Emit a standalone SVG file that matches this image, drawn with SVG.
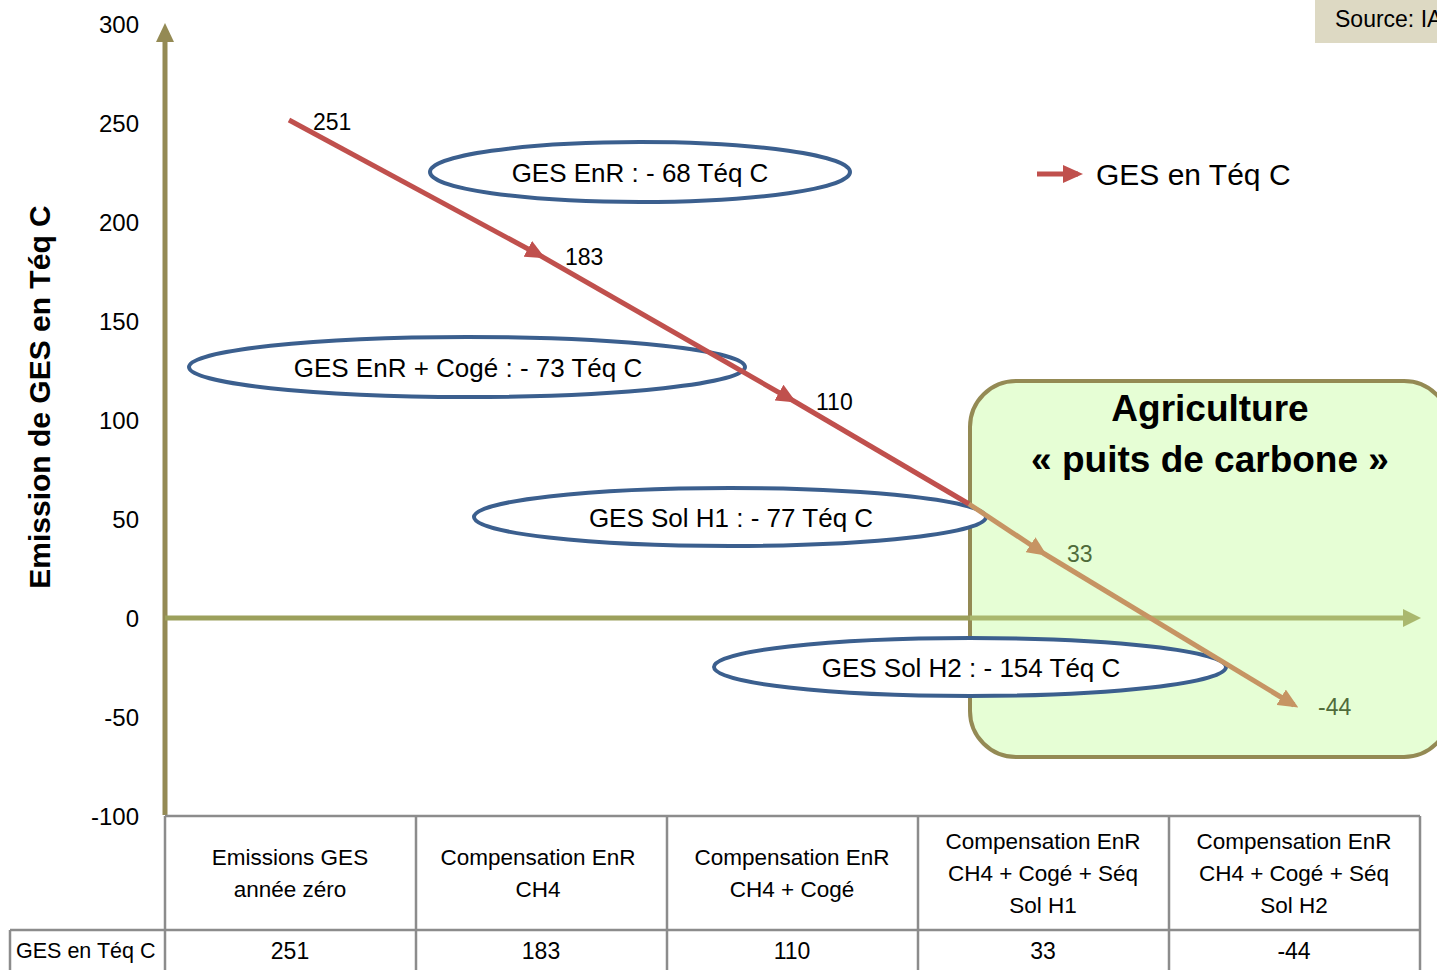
<svg xmlns="http://www.w3.org/2000/svg" width="1437" height="970" viewBox="0 0 1437 970">
  <style>
    text { font-family: "Liberation Sans", Arial, sans-serif; fill: #000; }
    .tick { font-size: 24px; text-anchor: end; }
    .cat { font-size: 22.5px; text-anchor: middle; }
    .val { font-size: 23px; text-anchor: middle; }
    .pt { font-size: 23px; }
    .pt-in { font-size: 23px; fill: #4F6B3A; }
    .oval { fill: #FFFFFF; stroke: #3B5F8E; stroke-width: 4; }
    .oval-label { font-size: 26px; text-anchor: middle; }
    .grid { stroke: #8C8C8C; stroke-width: 2.5; fill: none; }
    .seg-red { stroke: #C0504D; stroke-width: 5; fill: none; }
    .seg-tan { stroke: #C69463; stroke-width: 5; fill: none; }
  </style>
  <defs>
    <marker id="arrow-red" markerUnits="userSpaceOnUse" viewBox="0 0 20 18" markerWidth="20" markerHeight="18" refX="15" refY="9" orient="auto">
      <path d="M0,0 L20,9 L0,18 z" fill="#C0504D"/>
    </marker>
    <marker id="arrow-tan" markerUnits="userSpaceOnUse" viewBox="0 0 20 18" markerWidth="20" markerHeight="18" refX="15" refY="9" orient="auto">
      <path d="M0,0 L20,9 L0,18 z" fill="#C69463"/>
    </marker>
  </defs>

  <rect width="1437" height="970" fill="#FFFFFF"/>

  <!-- source tag -->
  <g id="source">
    <rect x="1315" y="-2" width="130" height="45" fill="#DDD9C3"/>
    <text x="1335" y="27" style="font-size:23px">Source: IA</text>
  </g>

  <!-- carbon sink zone -->
  <g id="zone-puits">
    <rect x="970" y="381" width="480" height="376" rx="46" ry="46" fill="#E6FED5" stroke="#948A54" stroke-width="4"/>
    <text x="1210" y="421" text-anchor="middle" style="font-size:37px;font-weight:bold">Agriculture</text>
    <text x="1210" y="472" text-anchor="middle" style="font-size:37px;font-weight:bold">« puits de carbone »</text>
  </g>

  <!-- axes -->
  <g id="axes">
    <line x1="165" y1="40" x2="165" y2="815" stroke="#948A54" stroke-width="5"/>
    <path d="M165,23 L174,42 L156,42 z" fill="#948A54"/>
    <line x1="165" y1="618" x2="970" y2="618" stroke="#9CA05C" stroke-width="5"/>
    <line x1="970" y1="618" x2="1404" y2="618" stroke="#AAB86E" stroke-width="5"/>
    <path d="M1421,618 L1403,609 L1403,627 z" fill="#AAB86E"/>
  </g>

  <!-- y axis ticks and title -->
  <g id="y-ticks">
    <text class="tick" x="139" y="33">300</text>
    <text class="tick" x="139" y="132">250</text>
    <text class="tick" x="139" y="231">200</text>
    <text class="tick" x="139" y="330">150</text>
    <text class="tick" x="139" y="429">100</text>
    <text class="tick" x="139" y="528">50</text>
    <text class="tick" x="139" y="627">0</text>
    <text class="tick" x="139" y="726">-50</text>
    <text class="tick" x="139" y="825">-100</text>
  </g>
  <text id="y-title" transform="translate(50,397) rotate(-90)" text-anchor="middle" style="font-size:30px;font-weight:bold">Emission de GES en Téq C</text>

  <!-- annotation ovals -->
  <g id="oval-enr">
    <ellipse class="oval" cx="640" cy="172" rx="210" ry="30"/>
    <text class="oval-label" x="640" y="182">GES EnR : - 68 Téq C</text>
  </g>
  <g id="oval-enr-coge">
    <ellipse class="oval" cx="467" cy="367" rx="278" ry="30"/>
    <text class="oval-label" x="468" y="377">GES EnR + Cogé : - 73 Téq C</text>
  </g>
  <g id="oval-sol-h1">
    <ellipse class="oval" cx="730" cy="517" rx="256" ry="29"/>
    <text class="oval-label" x="731" y="527">GES Sol H1 : - 77 Téq C</text>
  </g>
  <g id="oval-sol-h2">
    <ellipse class="oval" cx="970" cy="667" rx="256" ry="29"/>
    <text class="oval-label" x="971" y="677">GES Sol H2 : - 154 Téq C</text>
  </g>

  <!-- emission trajectory -->
  <g id="connectors">
    <line class="seg-red" x1="289" y1="120" x2="541" y2="256" marker-end="url(#arrow-red)"/>
    <line class="seg-red" x1="541" y1="256" x2="792" y2="400" marker-end="url(#arrow-red)"/>
    <line class="seg-red" x1="792" y1="400" x2="969" y2="504"/>
    <line class="seg-tan" x1="969" y1="504" x2="1043" y2="553" marker-end="url(#arrow-tan)"/>
    <line class="seg-tan" x1="1043" y1="553" x2="1294" y2="705" marker-end="url(#arrow-tan)"/>
  </g>

  <!-- point values -->
  <g id="point-labels">
    <text class="pt" x="313" y="130">251</text>
    <text class="pt" x="565" y="265">183</text>
    <text class="pt" x="816" y="410">110</text>
    <text class="pt-in" x="1067" y="562">33</text>
    <text class="pt-in" x="1318" y="715">-44</text>
  </g>

  <!-- legend -->
  <g id="legend">
    <line x1="1037" y1="174" x2="1078" y2="174" stroke="#C0504D" stroke-width="5" marker-end="url(#arrow-red)"/>
    <text x="1096" y="185" style="font-size:30px">GES en Téq C</text>
  </g>

  <!-- data table -->
  <g id="table">
    <path class="grid" d="M165,816 H1420 M10,930 H1420 M165,816 V970 M416,816 V970 M667,816 V970 M918,816 V970 M1169,816 V970 M1420,816 V970 M10,930 V970"/>
    <text class="cat" x="290" y="865">Emissions GES</text>
    <text class="cat" x="290" y="897">année zéro</text>
    <text class="cat" x="538" y="865">Compensation EnR</text>
    <text class="cat" x="538" y="897">CH4</text>
    <text class="cat" x="792" y="865">Compensation EnR</text>
    <text class="cat" x="792" y="897">CH4 + Cogé</text>
    <text class="cat" x="1043" y="849">Compensation EnR</text>
    <text class="cat" x="1043" y="881">CH4 + Cogé + Séq</text>
    <text class="cat" x="1043" y="913">Sol H1</text>
    <text class="cat" x="1294" y="849">Compensation EnR</text>
    <text class="cat" x="1294" y="881">CH4 + Cogé + Séq</text>
    <text class="cat" x="1294" y="913">Sol H2</text>
    <text x="16" y="958" style="font-size:21.5px">GES en Téq C</text>
    <text class="val" x="290" y="959">251</text>
    <text class="val" x="541" y="959">183</text>
    <text class="val" x="792" y="959">110</text>
    <text class="val" x="1043" y="959">33</text>
    <text class="val" x="1294" y="959">-44</text>
  </g>
</svg>
